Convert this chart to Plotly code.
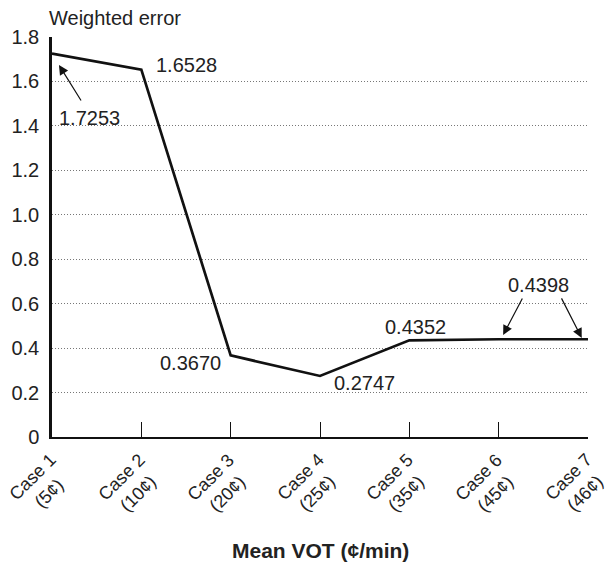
import plotly.graph_objects as go

cases = ["Case 1<br>(5¢)", "Case 2<br>(10¢)", "Case 3<br>(20¢)", "Case 4<br>(25¢)",
         "Case 5<br>(35¢)", "Case 6<br>(45¢)", "Case 7<br>(46¢)"]
errors = [1.7253, 1.6528, 0.3670, 0.2747, 0.4352, 0.4398, 0.4398]
yticks = [0, 0.2, 0.4, 0.6, 0.8, 1.0, 1.2, 1.4, 1.6, 1.8]
ytick_text = ["0", "0.2", "0.4", "0.6", "0.8", "1.0", "1.2", "1.4", "1.6", "1.8"]

xs = list(range(len(cases)))
FONT = "Liberation Sans, Arial, sans-serif"

fig = go.Figure()
fig.add_trace(go.Scatter(x=xs, y=errors, mode="lines",
                         line=dict(color="#111", width=2.7), hoverinfo="skip"))

ann = []
labels = [("1.6528", 1.5, 1.674), ("1.7253", 0.425, 1.436), ("0.3670", 1.545, 0.333),
          ("0.2747", 3.5, 0.243), ("0.4352", 4.07, 0.495), ("0.4398", 5.45, 0.684)]
for t, x, y in labels:
    ann.append(dict(text=t, x=x, y=y, xref="x", yref="y", showarrow=False,
                    font=dict(size=20, color="#222", family=FONT)))
arrows = [(0.078, 1.674, 23, 37), (5.05, 0.459, 20, -38), (5.93, 0.446, -21, -41)]
for x, y, ax, ay in arrows:
    ann.append(dict(text="", x=x, y=y, xref="x", yref="y", ax=ax, ay=ay,
                    showarrow=True, arrowhead=2, arrowsize=1.6, arrowwidth=1.2,
                    arrowcolor="#111"))
# rotated, centre-aligned category labels
for i, c in enumerate(cases):
    ann.append(dict(text=c, x=xs[i], y=-0.12, xref="x", yref="paper",
                    xanchor="center", yanchor="middle", align="center",
                    textangle=-45, xshift=-12, showarrow=False,
                    font=dict(size=18, color="#222", family=FONT)))
ann.append(dict(text="Weighted error", xref="paper", yref="paper", x=0, y=1.0475,
                xanchor="left", yanchor="middle", xshift=-5, showarrow=False,
                font=dict(size=20, color="#222", family=FONT)))
ann.append(dict(text="<b>Mean VOT (¢/min)</b>", xref="paper", yref="paper", x=0.5, y=-0.2825,
                xanchor="center", yanchor="middle", showarrow=False,
                font=dict(size=21, color="#222", family=FONT)))

fig.update_layout(
    width=607, height=566,
    margin=dict(l=52, r=19, t=37, b=129, autoexpand=False),
    plot_bgcolor="white", paper_bgcolor="white",
    showlegend=False,
    annotations=ann,
    font=dict(family=FONT, color="#222"),
    xaxis=dict(range=[0, 6], tickvals=xs, showticklabels=False,
               showgrid=False, zeroline=False, showline=True, linecolor="#111",
               linewidth=2, ticks="inside", ticklen=15, tickwidth=1.2, tickcolor="#111",
               automargin=False),
    yaxis=dict(range=[0, 1.8], tickvals=yticks, ticktext=ytick_text,
               showgrid=True, gridcolor="#777", griddash="1px,2px", gridwidth=1,
               zeroline=False, showline=True, linecolor="#111", linewidth=2.5,
               ticks="", ticklabelstandoff=6, automargin=False,
               tickfont=dict(size=20, color="#222", family=FONT)),
)

fig.write_html("out.html", config={"displayModeBar": False},
               post_script="document.body.style.margin='0';document.body.style.padding='0';")
